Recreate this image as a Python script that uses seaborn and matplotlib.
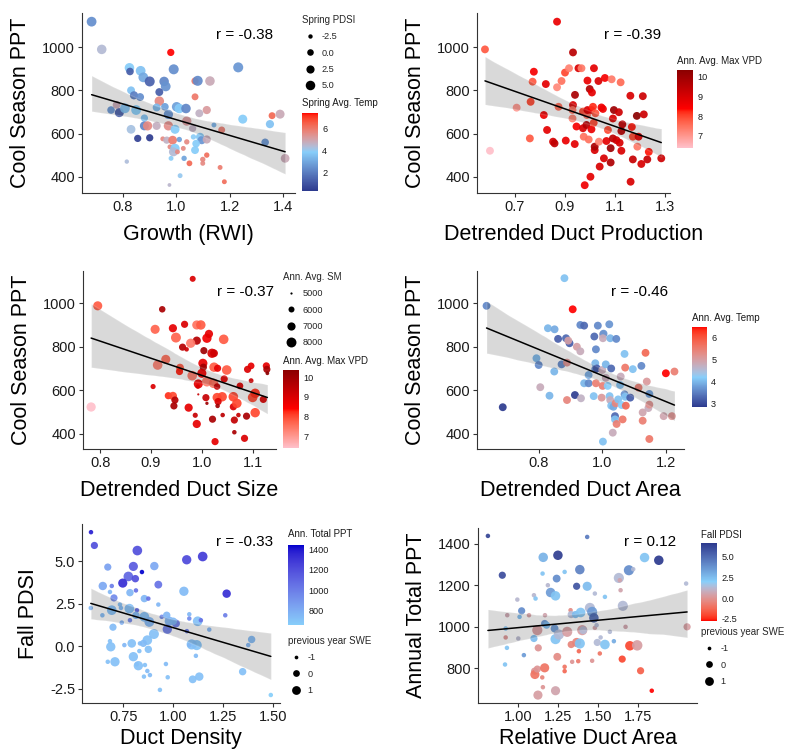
import numpy as np
import pandas as pd
import matplotlib
matplotlib.use("Agg")
import matplotlib.pyplot as plt
import seaborn as sns
from matplotlib.colors import ListedColormap, Normalize
from matplotlib.cm import ScalarMappable
from matplotlib.lines import Line2D
from matplotlib import font_manager as fm

# ---------------- data ----------------
# Panel 1: Growth (RWI) vs Cool Season PPT
p1_x = [0.682, 0.72, 0.979, 0.824, 0.826, 0.866, 0.876, 0.90, 0.99, 0.954,
        0.96, 0.936, 0.83, 0.841, 0.864, 1.07, 1.08, 1.126, 1.232, 1.07,
        0.936, 0.755, 0.776, 0.786, 0.807, 0.849, 0.926, 0.957, 0.97, 1.001,
        1.011, 1.036, 1.086, 1.114, 0.88, 0.83, 0.88, 0.892, 0.926, 0.97,
        0.995, 1.039, 1.061, 1.089, 1.095, 1.114, 1.141, 1.17, 1.249, 1.351,
        1.359, 1.389, 1.333, 1.408, 0.855, 0.90, 0.949, 0.964, 0.986, 1.011,
        0.976, 0.995, 0.989, 1.004, 1.026, 1.039, 1.064, 1.074, 1.07, 1.099,
        1.099, 1.114, 0.98, 1.029, 1.049, 0.814, 1.014, 0.974, 1.164, 1.18]
p1_y = [1117, 989, 975, 904, 887, 890, 860, 841, 897, 841,
        818, 792, 800, 777, 769, 843, 844, 843, 906, 770,
        750, 709, 733, 697, 717, 709, 721, 724, 689, 724,
        716, 716, 694, 709, 672, 620, 636, 636, 636, 636,
        620, 658, 624, 585, 570, 573, 640, 617, 667, 644,
        683, 690, 560, 486, 578, 581, 576, 570, 570, 573,
        539, 532, 516, 516, 532, 562, 585, 554, 524, 481,
        463, 501, 486, 486, 463, 471, 406, 363, 444, 378]
p1_temp = [2.4, 4.4, 7.4, 3.8, 1.2, 3.6, 3.0, 1.3, 2.4, 2.2,
           2.5, 1.2, 3.6, 2.0, 2.4, 6.0, 2.3, 4.8, 2.6, 6.0,
           5.6, 2.6, 4.8, 1.2, 3.6, 3.8, 3.4, 2.8, 2.6, 2.8,
           3.8, 2.2, 4.6, 5.2, 3.6, 4.2, 2.2, 5.6, 4.7, 5.5,
           3.8, 5.2, 4.6, 3.7, 2.6, 4.8, 3.2, 5.8, 3.8, 3.6,
           6.3, 4.8, 2.6, 4.8, 0.5, 0.3, 5.6, 4.6, 5.9, 2.8,
           5.6, 3.8, 4.4, 5.6, 5.6, 5.6, 3.9, 3.8, 3.8, 5.7,
           5.6, 6.2, 3.9, 2.9, 6.3, 4.3, 4.0, 4.5, 5.9, 6.2]
p1_pdsi = [5.5, 5, 1, 5, 1.5, 5.5, 5.5, 6, 6, 5,
           5.5, 2, 2, 2.5, 2, 1, 6, 5, 6, 0.5,
           5, 1.5, 2, 4, 5.5, 5.5, 2, 1.5, 4.5, 5,
           5, 5, 2, 2.5, 1, 3.5, 4, 4.5, 2.5, 4.5,
           4, 4.5, 1, 2.5, 2.5, 2.5, -2, 0.5, 4, 2.5,
           0.5, 4, 1.5, 3.5, 1, 1, -2, 1, 3.5, -1.5,
           -2, 4.5, 4, -2, -2, -1.5, -1.5, 1.5, 2, -1.5,
           -2, -1.5, -2, -1.5, -1, -2.5, -2, -3, -2, -2]

# Panel 2: Detrended Duct Production vs Cool Season PPT
p2_x = [0.58, 0.60, 0.707, 0.763, 0.776, 0.771, 0.76, 0.816, 0.824, 0.829,
        0.853, 0.859, 0.869, 0.869, 0.875, 0.887, 0.901, 0.904, 0.917, 0.933,
        0.933, 0.931, 0.941, 0.931, 0.94, 0.947, 0.955, 0.967, 0.973, 0.973,
        0.976, 0.98, 0.987, 0.989, 0.991, 0.996, 1.0, 1.003, 1.007, 1.007,
        1.009, 0.991, 1.017, 1.013, 1.016, 1.02, 1.02, 1.023, 1.035, 1.037,
        1.04, 1.047, 1.053, 1.057, 1.061, 1.067, 1.073, 1.084, 1.084, 1.088,
        1.093, 1.093, 1.097, 1.107, 1.117, 1.12, 1.124, 1.127, 1.131, 1.127,
        1.163, 1.164, 1.169, 1.173, 1.173, 1.189, 1.191, 1.196, 1.207, 1.213,
        1.217, 1.231, 1.237, 1.287]
p2_y = [989, 521, 720, 747, 886, 840, 578, 686, 829, 617,
        563, 555, 1117, 814, 724, 843, 882, 568, 902, 975,
        732, 709, 779, 670, 552, 633, 902, 902, 625, 702,
        586, 362, 640, 686, 709, 573, 806, 401, 709, 620,
        790, 845, 902, 724, 650, 524, 540, 694, 843, 563,
        448, 721, 714, 486, 857, 566, 617, 533, 467, 851,
        670, 578, 709, 570, 699, 558, 837, 521, 643, 612,
        775, 378, 631, 586, 481, 682, 540, 586, 460, 773,
        689, 481, 516, 486]
p2_vpd = [7.8, 6.4, 7.0, 8.0, 8.5, 7.8, 7.8, 8.7, 8.8, 8.8,
          9.0, 9.4, 8.7, 7.2, 7.6, 7.5, 8.0, 8.7, 7.3, 9.5,
          9.0, 7.4, 9.8, 7.3, 8.8, 8.5, 9.0, 7.4, 9.0, 8.0,
          7.5, 8.6, 9.6, 7.5, 9.0, 7.5, 9.7, 8.8, 8.6, 8.7,
          8.8, 8.7, 8.8, 8.2, 8.0, 9.0, 9.8, 7.8, 9.0, 7.3,
          9.0, 8.6, 8.6, 9.0, 8.5, 8.8, 8.0, 10.0, 9.7, 7.4,
          9.0, 9.5, 10.0, 9.2, 9.2, 9.0, 7.6, 9.0, 9.4, 9.5,
          9.0, 9.0, 8.3, 8.0, 9.3, 10.34, 7.4, 8.8, 9.0, 9.2,
          9.2, 9.3, 8.3, 9.2]

# Panel 3: Detrended Duct Size vs Cool Season PPT
p3_x = [0.982, 0.795, 0.922, 0.908, 0.943, 0.949, 0.966, 0.99, 0.998, 0.99,
        0.978, 0.962, 0.97, 1.004, 1.01, 1.014, 1.02, 1.024, 1.043, 0.929,
        0.913, 0.957, 0.956, 0.981, 1.002, 1.003, 1.0, 1.024, 1.031, 1.049,
        1.044, 0.993, 0.992, 1.01, 1.023, 1.03, 0.904, 0.934, 0.943, 0.947,
        0.945, 0.974, 0.987, 0.99, 0.993, 1.008, 1.01, 1.03, 1.04, 1.032,
        1.031, 1.021, 1.041, 1.026, 1.062, 1.062, 1.069, 1.075, 1.072, 1.064,
        1.064, 1.084, 1.088, 1.09, 1.097, 1.097, 1.10, 1.105, 1.105, 1.121,
        1.127, 1.128, 1.129, 0.782]
p3_y = [1112, 988, 972, 880, 885, 842, 903, 900, 900, 828,
        816, 798, 788, 782, 839, 859, 770, 770, 834, 742,
        716, 704, 686, 667, 724, 706, 678, 706, 701, 693,
        652, 629, 617, 640, 632, 617, 617, 575, 574, 555,
        528, 520, 485, 445, 581, 566, 540, 567, 570, 548,
        528, 467, 486, 364, 570, 524, 540, 620, 486, 463,
        407, 379, 481, 696, 712, 644, 567, 586, 497, 558,
        712, 696, 678, 523]
p3_sm = [6000, 7500, 6200, 7500, 7000, 8000, 6500, 7500, 7700, 7000,
         7600, 6500, 5500, 6500, 7600, 7000, 7600, 6800, 7800, 7500,
         7800, 6800, 6500, 7800, 7500, 6500, 7500, 7700, 6500, 7800,
         6500, 7500, 5500, 8000, 7700, 6200, 5700, 6500, 7000, 6500,
         6500, 7000, 5700, 7000, 5000, 6500, 5200, 7500, 7700, 6500,
         5500, 6500, 5500, 6500, 7800, 6500, 7700, 6300, 5500, 6500,
         5500, 6500, 6500, 6500, 6300, 5600, 7800, 7700, 7700, 6500,
         6500, 6500, 5300, 7600]
p3_vpd = [9.0, 7.8, 9.8, 7.7, 8.8, 7.7, 9.0, 7.5, 7.8, 9.6,
          7.4, 9.6, 9.2, 10.0, 8.6, 8.8, 9.0, 9.2, 7.8, 7.6,
          7.3, 7.8, 8.3, 7.4, 8.8, 10.0, 8.6, 7.8, 8.8, 7.8,
          8.8, 8.8, 9.0, 7.4, 7.6, 9.3, 9.0, 8.2, 8.0, 9.6,
          9.8, 8.8, 9.3, 8.8, 9.3, 9.3, 10.0, 8.0, 8.0, 9.0,
          10.0, 9.8, 9.5, 8.8, 8.0, 9.0, 8.0, 9.0, 9.3, 9.4,
          9.8, 9.0, 9.8, 9.0, 8.8, 9.3, 8.0, 8.2, 8.0, 9.0,
          8.8, 9.8, 10.37, 6.4]

# Panel 4: Detrended Duct Area vs Cool Season PPT
p4_x = [0.636, 0.687, 0.881, 0.907, 0.793, 0.80, 0.829, 0.85, 0.861, 0.849,
        0.834, 0.805, 0.886, 0.897, 0.893, 0.872, 0.889, 0.92, 0.931, 0.931,
        0.943, 0.889, 0.914, 0.933, 0.943, 0.957, 0.957, 0.973, 0.975, 0.98,
        0.978, 0.978, 0.98, 0.986, 0.983, 1.002, 1.004, 1.002, 1.0, 1.001,
        0.998, 1.002, 1.011, 1.011, 1.017, 1.022, 1.023, 1.025, 1.028, 1.025,
        1.028, 1.035, 1.04, 1.04, 1.042, 1.044, 1.033, 1.045, 1.05, 1.056,
        1.058, 1.061, 1.064, 1.072, 1.07, 1.072, 1.074, 1.07, 1.088, 1.096,
        1.114, 1.123, 1.127, 1.127, 1.136, 1.14, 1.145, 1.148, 1.148, 1.148,
        1.193, 1.2, 1.219, 1.227]
p4_y = [988, 522, 1115, 972, 747, 716, 885, 880, 836, 686,
        575, 614, 839, 816, 828, 719, 727, 800, 779, 900,
        897, 555, 578, 563, 632, 632, 670, 573, 847, 788,
        724, 697, 632, 897, 700, 856, 860, 839, 693, 620,
        566, 364, 719, 657, 620, 903, 573, 839, 700, 555,
        529, 524, 481, 466, 540, 836, 405, 445, 558, 624,
        663, 532, 466, 704, 581, 570, 529, 767, 566, 697,
        612, 712, 460, 498, 772, 640, 518, 583, 534, 376,
        481, 678, 481, 686]
p4_temp = [3.6, 2.85, 4.1, 6.5, 4.0, 3.6, 4.0, 3.9, 3.2, 4.0,
           4.0, 4.8, 3.3, 3.2, 5.0, 3.6, 5.2, 5.0, 4.8, 3.6,
           3.3, 5.4, 2.9, 4.7, 4.0, 3.6, 3.9, 4.1, 3.3, 3.6,
           4.0, 3.6, 5.5, 3.6, 3.2, 4.7, 3.7, 4.8, 4.8, 5.5,
           5.1, 4.1, 4.0, 4.8, 4.2, 3.7, 4.1, 4.0, 3.3, 4.8,
           4.1, 3.9, 3.3, 4.1, 5.4, 3.6, 4.8, 5.5, 4.1, 4.1,
           4.8, 4.2, 5.6, 5.6, 3.7, 4.1, 5.8, 4.1, 3.2, 4.1,
           5.5, 3.6, 5.5, 4.9, 5.8, 5.1, 4.8, 3.8, 5.2, 5.6,
           4.9, 6.5, 5.2, 5.5]

# Panel 5: Duct Density vs Fall PDSI
p5_x = [0.588, 0.605, 0.672, 0.82, 0.80, 0.843, 0.775, 0.747, 0.81, 0.905,
        0.925, 1.067, 1.147, 0.647, 0.692, 0.683, 0.783, 0.813, 0.855, 0.875,
        0.703, 1.053, 1.267, 0.587, 0.645, 0.692, 0.733, 0.78, 0.818, 0.813,
        0.855, 0.783, 0.742, 0.88, 0.925, 0.942, 0.967, 0.98, 1.013, 0.97,
        1.08, 1.08, 1.122, 1.138, 1.26, 1.18, 1.068, 0.698, 0.903, 0.87,
        0.85, 0.792, 0.755, 0.687, 0.683, 0.833, 0.875, 0.83, 0.80, 0.672,
        0.708, 0.817, 0.825, 0.858, 0.87, 0.853, 0.883, 0.963, 0.972, 0.933,
        1.097, 1.13, 1.113, 1.117, 1.092, 1.08, 1.347, 1.375, 1.392, 1.488,
        0.738, 1.0]
p5_y = [6.70, 5.92, 4.65, 5.62, 4.69, 4.36, 4.10, 3.71, 3.97, 4.71,
        3.62, 5.08, 5.27, 3.54, 3.54, 3.19, 3.15, 3.28, 2.80, 2.80,
        2.84, 3.23, 3.09, 2.25, 1.82, 2.12, 2.45, 2.21, 2.12, 1.82,
        1.73, 1.53, 1.39, 1.43, 2.45, 1.73, 1.82, 1.47, 1.34, 1.00,
        1.88, 1.63, 1.47, 1.53, 1.82, 0.98, 0.89, 1.12, 0.72, 0.36,
        0.17, 0.17, 0.07, -0.03, 0.30, 0.17, -0.18, -0.28, -0.61, -0.91,
        -0.91, -1.06, -1.14, -1.10, -1.45, -1.78, -1.69, -1.04, -1.82, -2.56,
        -1.94, -1.78, -0.56, 0.07, 0.11, 0.07, -1.49, 0.07, 0.40, -2.86,
        2.25, 1.47]
p5_ppt = [1380, 1200, 850, 1200, 1150, 1442, 1100, 1330, 1200, 820,
          1050, 1220, 1280, 820, 1000, 760, 760, 1050, 760, 1050,
          950, 740, 1330, 760, 740, 720, 720, 720, 1100, 740,
          720, 960, 780, 760, 760, 950, 760, 760, 1000, 1000,
          760, 950, 720, 1050, 1000, 760, 1000, 740, 720, 720,
          740, 720, 760, 720, 720, 740, 720, 720, 720, 720,
          720, 720, 720, 720, 740, 720, 740, 740, 720, 720,
          720, 720, 740, 700, 720, 760, 720, 760, 740, 660,
          740, 740]
p5_swe = [-0.8, 0.2, 0.2, 1.5, 1.2, -0.8, 1.5, 1.2, 0.3, 0.8,
          0.5, 1.3, 1.5, 0.8, -0.8, -0.8, 0.3, -0.8, 0.3, -0.8,
          0.2, 1.3, 0.8, -0.8, -0.8, 1.5, -0.8, 1.5, -0.8, 0.3,
          1.6, -0.8, -0.8, 1.6, -0.8, -0.8, 0.3, 1.3, 0.6, 1.3,
          -0.8, -0.8, 1.5, -0.8, -0.8, -0.8, -0.8, 0.2, 1.7, 1.5,
          0.2, 0.9, -0.8, 1.3, -0.8, -0.8, 0.3, -0.8, 1.3, -0.8,
          1.3, -0.8, 1.3, -0.8, -0.8, -0.8, -0.8, -0.8, -0.8, -0.8,
          0.5, 0.8, -0.8, 1.8, 1.8, -0.8, 0.3, -0.8, 0.3, -0.8,
          -0.8, 0.3]

# Panel 6: Relative Duct Area vs Annual Total PPT
p6_x = [0.81, 0.90, 1.156, 1.248, 1.152, 1.29, 1.24, 1.385, 1.431, 1.185,
        1.365, 1.431, 1.202, 1.233, 1.098, 1.108, 0.994, 1.021, 1.008, 0.931,
        0.921, 0.921, 0.929, 0.917, 1.0, 1.035, 1.067, 1.098, 1.119, 1.125,
        1.102, 1.104, 1.119, 1.165, 1.15, 1.154, 1.123, 1.233, 1.167, 1.165,
        1.177, 1.227, 1.233, 1.254, 1.244, 1.29, 1.29, 1.306, 1.327, 1.331,
        1.331, 1.337, 1.358, 1.365, 1.379, 1.385, 1.40, 1.375, 1.39, 1.406,
        1.448, 1.462, 1.473, 1.479, 1.462, 1.49, 1.494, 1.51, 1.542, 1.479,
        1.515, 1.542, 1.573, 1.598, 1.629, 1.654, 1.64, 1.635, 1.692, 1.719,
        1.671, 1.698, 1.744, 1.765, 1.65, 1.79, 1.879, 1.835, 2.05, 2.056]
p6_y = [1437, 1248, 1334, 1344, 1256, 1264, 1232, 1275, 1432, 1200,
        1195, 1195, 1165, 1149, 1152, 1136, 1131, 1077, 1048, 1056,
        992, 949, 899, 819, 944, 864, 1056, 944, 984, 899,
        787, 771, 797, 803, 757, 710, 672, 693, 1056, 1016,
        1008, 992, 941, 963, 856, 808, 787, 976, 1080, 1059,
        915, 832, 1059, 925, 883, 920, 984, 835, 1069, 984,
        1091, 1072, 1043, 995, 837, 1008, 925, 872, 1144, 1160,
        949, 915, 976, 931, 1235, 1101, 1176, 1224, 1272, 1277,
        1000, 909, 911, 789, 845, 1333, 1320, 693, 1208, 1000]
p6_pdsi = [6.3, 6.0, 2.8, 6.5, 2.3, 2.3, 4.0, 4.3, 4.5, 1.2,
           5.8, 2.5, 3.5, 2.3, 1.2, 2.3, 1.2, 4.0, 2.5, 0.6,
           2.3, 0.0, 2.3, 2.3, 1.2, 3.5, 0.3, 2.5, 0.3, 0.0,
           0.0, -1.0, 0.0, -1.0, -0.5, 0.0, 0.3, 0.5, 0.5, 3.5,
           2.5, 3.5, 2.3, 1.3, -0.3, -1.0, -1.3, 0.3, -0.3, 1.3,
           -0.5, 0.0, 2.5, -0.5, -1.3, 2.3, 0.3, -0.8, 2.3, 1.3,
           1.3, 3.5, 5.0, 0.5, 0.0, 1.3, 1.3, -1.0, 2.3, 1.3,
           1.3, 2.3, 1.3, 3.0, 1.3, 1.3, 0.5, 0.5, 4.0, 1.3,
           0.5, -2.0, 0.3, -1.5, -2.0, 2.3, 6.65, -2.77, 1.3, 0.3]
p6_swe = [-0.8, 0.2, 1.4, 1.4, -0.8, -0.8, 0.5, 1.4, -0.8, -0.8,
          0.2, 1.2, 1.4, 1.4, -0.8, -0.8, -0.8, 0.2, -0.8, -0.8,
          -0.8, -0.8, -0.8, -0.8, -0.8, -0.8, -0.8, 0.2, 1.8, 0.2,
          0.2, 1.2, 0.2, 1.2, -0.8, -0.8, 1.2, 1.2, -0.8, 0.2,
          0.2, 0.5, 1.8, 1.8, 0.5, -0.8, -0.8, 1.8, -0.8, 0.2,
          0.2, -0.8, 0.2, 1.2, -0.8, 1.8, 1.8, -0.8, 1.5, 0.5,
          1.8, 1.8, 1.4, -0.8, -0.8, -0.8, 0.2, -0.8, -0.8, -0.8,
          -0.8, 1.5, -0.8, -0.8, 1.8, 1.8, -0.8, -0.8, 1.8, -0.8,
          -0.8, 1.4, 2.0, 0.2, 0.2, 1.4, 1.4, -0.8, -0.8, 0.2]

r_labels = ["r = -0.38", "r = -0.39", "r = -0.37", "r = -0.46", "r = -0.33", "r = 0.12"]

# ---------------- style ----------------
sns.set_theme(style="white")
names = {f.name for f in fm.fontManager.ttflist}
MAIN = "Liberation Sans" if "Liberation Sans" in names else "DejaVu Sans"
NARROW = "Liberation Sans Narrow" if "Liberation Sans Narrow" in names else MAIN
plt.rcParams["font.family"] = [MAIN, "DejaVu Sans"]
plt.rcParams["axes.unicode_minus"] = False
TICKFS = 11.5 if NARROW != MAIN else 10.5
LEGFS = 7.8 if NARROW != MAIN else 6.6
RFS = 12 if NARROW != MAIN else 11
W, H = 786, 753


def _to_lab(hexc):
    c = np.array(matplotlib.colors.to_rgb(hexc))
    lin = np.where(c <= 0.04045, c / 12.92, ((c + 0.055) / 1.055) ** 2.4)
    M = np.array([[0.4124, 0.3576, 0.1805], [0.2126, 0.7152, 0.0722], [0.0193, 0.1192, 0.9505]])
    xyz = M @ lin / np.array([0.95047, 1.0, 1.08883])
    f = np.where(xyz > 0.008856, np.cbrt(xyz), 7.787 * xyz + 16 / 116)
    return np.array([116 * f[1] - 16, 500 * (f[0] - f[1]), 200 * (f[1] - f[2])])


def _from_lab(lab):
    L, a, b = lab
    fy = (L + 16) / 116
    f = np.array([fy + a / 500, fy, fy - b / 200])
    xyz = np.where(f ** 3 > 0.008856, f ** 3, (f - 16 / 116) / 7.787) * np.array([0.95047, 1.0, 1.08883])
    Minv = np.linalg.inv(np.array([[0.4124, 0.3576, 0.1805], [0.2126, 0.7152, 0.0722], [0.0193, 0.1192, 0.9505]]))
    lin = np.clip(Minv @ xyz, 0, 1)
    c = np.where(lin <= 0.0031308, 12.92 * lin, 1.055 * lin ** (1 / 2.4) - 0.055)
    return np.clip(c, 0, 1)


def lab_cmap(colors, positions=None, n=256):
    if positions is None:
        positions = np.linspace(0, 1, len(colors))
    labs = np.array([_to_lab(c) for c in colors])
    out = []
    for t in np.linspace(0, 1, n):
        lab = np.array([np.interp(t, positions, labs[:, k]) for k in range(3)])
        out.append(_from_lab(lab))
    return ListedColormap(out)


NAVY, SKY, RED = "#2c3a8e", "#87cefa", "#ff0000"
reds_cmap = lab_cmap(["#ffc0cb", "#ff0000", "#8b0000"])
blues_cmap = lab_cmap(["#87cefa", "#0000cd"])

GROW = 1.2


def s_pdsi(v):
    return GROW * 0.5184 * (35.9 + 7.96 * np.asarray(v, float))


def s_sm(v):
    return GROW * 0.5184 * (4 + 0.026 * (np.asarray(v, float) - 5000))


def s_swe(v):
    return GROW * 0.5184 * (38 + 26.5 * np.asarray(v, float))


S_CONST = 32.0

fig = plt.figure(figsize=(W / 100, H / 100), dpi=100)


def frac(l, t, r, b):
    return [l / W, 1 - b / H, (r - l) / W, (b - t) / H]


def panel(rect, df, xcol, ycol, hcol, cmap, hlim, xlim, ylim, xticks, xtl, yticks, ytl,
          xlabel, ylabel, rlab, rpos, scol=None, sfun=None, slim=None, xpad=7.5):
    ax = fig.add_axes(frac(*rect))
    kw = dict(data=df, x=xcol, y=ycol, hue=hcol, palette=cmap, hue_norm=Normalize(*hlim),
              legend=False, edgecolor="none", alpha=0.92, ax=ax)
    if scol is None:
        sns.scatterplot(s=S_CONST, **kw)
    else:
        sns.scatterplot(size=scol, sizes=(float(sfun(slim[0])), float(sfun(slim[1]))),
                        size_norm=slim, **kw)
    sns.regplot(data=df, x=xcol, y=ycol, scatter=False, color="black", ci=95, n_boot=1000,
                seed=3, ax=ax, line_kws=dict(lw=1.1))
    ax.set_xlim(*xlim)
    ax.set_ylim(*ylim)
    ax.set_xticks(xticks)
    ax.set_xticklabels(xtl, fontfamily=NARROW, fontsize=TICKFS)
    ax.set_yticks(yticks)
    ax.set_yticklabels(ytl, fontfamily=NARROW, fontsize=TICKFS)
    for sp in ["top", "right"]:
        ax.spines[sp].set_visible(False)
    for sp in ["left", "bottom"]:
        ax.spines[sp].set_color("#333333")
        ax.spines[sp].set_linewidth(0.8)
    ax.tick_params(axis="both", direction="out", length=3, width=0.8, color="#333333",
                   labelcolor="#1a1a1a", pad=2, bottom=True, left=True)
    ax.set_xlabel(xlabel, fontsize=15.5, fontfamily=MAIN, labelpad=xpad, color="black")
    ax.set_ylabel(ylabel, fontsize=15.5, fontfamily=MAIN, labelpad=8, color="black")
    ax.text(rpos[0], rpos[1], rlab, transform=ax.transAxes, ha="center", va="center",
            fontsize=RFS, fontfamily=NARROW, color="black")
    return ax


def colorbar(cmap, hlim, rect, ticks, tl, title, title_y):
    cax = fig.add_axes(frac(*rect))
    cb = fig.colorbar(ScalarMappable(norm=Normalize(*hlim), cmap=cmap), cax=cax)
    cb.outline.set_visible(False)
    cb.set_ticks(ticks)
    cb.set_ticklabels(tl)
    cax.tick_params(axis="y", direction="in", length=3, width=0.7, color="white",
                    labelcolor="#1a1a1a", labelsize=LEGFS, pad=3, left=True, right=True)
    for lab in cax.get_yticklabels():
        lab.set_fontfamily(NARROW)
    fig.text(rect[0] / W, 1 - title_y / H, title, fontsize=LEGFS + 0.4, fontfamily=NARROW,
             ha="left", va="center", color="#1a1a1a")


def size_legend(ax, title, vals, labels, sfun, left, top):
    handles = [Line2D([], [], ls="none", marker="o", markersize=float(np.sqrt(sfun(v))),
                      markerfacecolor="black", markeredgecolor="none") for v in vals]
    leg = ax.legend(handles, labels, title=title, loc="upper left",
                    bbox_to_anchor=(left / W, 1 - top / H), bbox_transform=fig.transFigure,
                    frameon=False, prop=dict(family=NARROW, size=LEGFS),
                    title_fontproperties=dict(family=NARROW, size=LEGFS + 0.4),
                    alignment="left", borderpad=0, borderaxespad=0, handlelength=1.8,
                    handletextpad=0.3, labelspacing=0.8)
    return leg


YT_PPT = [400, 600, 800, 1000]
YTL_PPT = ["400", "600", "800", "1000"]

# Panel 1
df1 = pd.DataFrame(dict(x=p1_x, y=p1_y, temp=p1_temp, pdsi=p1_pdsi))
cm1 = lab_cmap([NAVY, SKY, RED], [0, 0.5, 1])
ax1 = panel((82, 13, 295, 193), df1, "x", "y", "temp", cm1, (0.3, 7.4), (0.646, 1.445), (326, 1157),
            [0.8, 1.0, 1.2, 1.4], ["0.8", "1.0", "1.2", "1.4"], YT_PPT, YTL_PPT,
            "Growth (RWI)", "Cool Season PPT", r_labels[0], (0.765, 0.878),
            scol="pdsi", sfun=s_pdsi, slim=(-3.0, 6.5))
size_legend(ax1, "Spring PDSI", [-2.5, 0, 2.5, 5.0], ["-2.5", "0.0", "2.5", "5.0"], s_pdsi, 302, 15)
colorbar(cm1, (0.3, 7.4), (302, 113, 318, 191), [2, 4, 6], ["2", "4", "6"], "Spring Avg. Temp", 103)

# Panel 2
df2 = pd.DataFrame(dict(x=p2_x, y=p2_y, vpd=p2_vpd))
ax2 = panel((477, 13, 670, 193), df2, "x", "y", "vpd", reds_cmap, (6.38, 10.34), (0.548, 1.322), (326, 1157),
            [0.7, 0.9, 1.1, 1.3], ["0.7", "0.9", "1.1", "1.3"], YT_PPT, YTL_PPT,
            "Detrended Duct Production", "Cool Season PPT", r_labels[1], (0.805, 0.878))
colorbar(reds_cmap, (6.38, 10.34), (677, 70, 693, 148), [7, 8, 9, 10], ["7", "8", "9", "10"],
         "Ann. Avg. Max VPD", 61)

# Panel 3
df3 = pd.DataFrame(dict(x=p3_x, y=p3_y, sm=p3_sm, vpd=p3_vpd))
ax3 = panel((83, 271, 276, 449), df3, "x", "y", "vpd", reds_cmap, (6.4, 10.37), (0.766, 1.146), (330, 1148),
            [0.8, 0.9, 1.0, 1.1], ["0.8", "0.9", "1.0", "1.1"], YT_PPT, YTL_PPT,
            "Detrended Duct Size", "Cool Season PPT", r_labels[2], (0.84, 0.884),
            scol="sm", sfun=s_sm, slim=(5000, 8600))
size_legend(ax3, "Ann. Avg. SM", [5000, 6000, 7000, 8000], ["5000", "6000", "7000", "8000"], s_sm, 283, 272)
colorbar(reds_cmap, (6.4, 10.37), (283, 370, 299, 448), [7, 8, 9, 10], ["7", "8", "9", "10"],
         "Ann. Avg. Max VPD", 361)

# Panel 4
df4 = pd.DataFrame(dict(x=p4_x, y=p4_y, temp=p4_temp))
cm4 = lab_cmap([NAVY, SKY, RED], [0, 0.37, 1])
ax4 = panel((477, 271, 684, 449), df4, "x", "y", "temp", cm4, (2.85, 6.5), (0.606, 1.257), (330, 1148),
            [0.8, 1.0, 1.2], ["0.8", "1.0", "1.2"], YT_PPT, YTL_PPT,
            "Detrended Duct Area", "Cool Season PPT", r_labels[3], (0.784, 0.884))
colorbar(cm4, (2.85, 6.5), (692, 327, 707, 407), [3, 4, 5, 6], ["3", "4", "5", "6"], "Ann. Avg. Temp", 318)

# Panel 5
df5 = pd.DataFrame(dict(x=p5_x, y=p5_y, ppt=p5_ppt, swe=p5_swe))
ax5 = panel((82, 524, 280, 703), df5, "x", "y", "ppt", blues_cmap, (660, 1442), (0.543, 1.534), (-3.33, 7.18),
            [0.75, 1.0, 1.25, 1.5], ["0.75", "1.00", "1.25", "1.50"], [-2.5, 0, 2.5, 5.0],
            ["-2.5", "0.0", "2.5", "5.0"], "Duct Density", "Fall PDSI", r_labels[4], (0.82, 0.899),
            scol="swe", sfun=s_swe, slim=(-1.2, 2.0), xpad=3)
colorbar(blues_cmap, (660, 1442), (288, 545, 304, 625), [800, 1000, 1200, 1400],
         ["800", "1000", "1200", "1400"], "Ann. Total PPT", 534)
size_legend(ax5, "previous year SWE", [-1, 0, 1], ["-1", "0", "1"], s_swe, 288, 636)

# Panel 6
df6 = pd.DataFrame(dict(x=p6_x, y=p6_y, pdsi=p6_pdsi, swe=p6_swe))
cm6 = lab_cmap([RED, SKY, NAVY], [0, 0.506, 1])
ax6 = panel((478, 528, 697, 703), df6, "x", "y", "pdsi", cm6, (-2.77, 6.65), (0.748, 2.118), (634, 1475),
            [1.0, 1.25, 1.5, 1.75], ["1.00", "1.25", "1.50", "1.75"], [800, 1000, 1200, 1400],
            ["800", "1000", "1200", "1400"], "Relative Duct Area", "Annual Total PPT", r_labels[5],
            (0.784, 0.92), scol="swe", sfun=s_swe, slim=(-1.2, 2.0), xpad=3)
colorbar(cm6, (-2.77, 6.65), (701, 543, 717, 621), [-2.5, 0, 2.5, 5.0], ["-2.5", "0.0", "2.5", "5.0"],
         "Fall PDSI", 535)
size_legend(ax6, "previous year SWE", [-1, 0, 1], ["-1", "0", "1"], s_swe, 701, 627)

fig.savefig("out.png", dpi=100, facecolor="white")
